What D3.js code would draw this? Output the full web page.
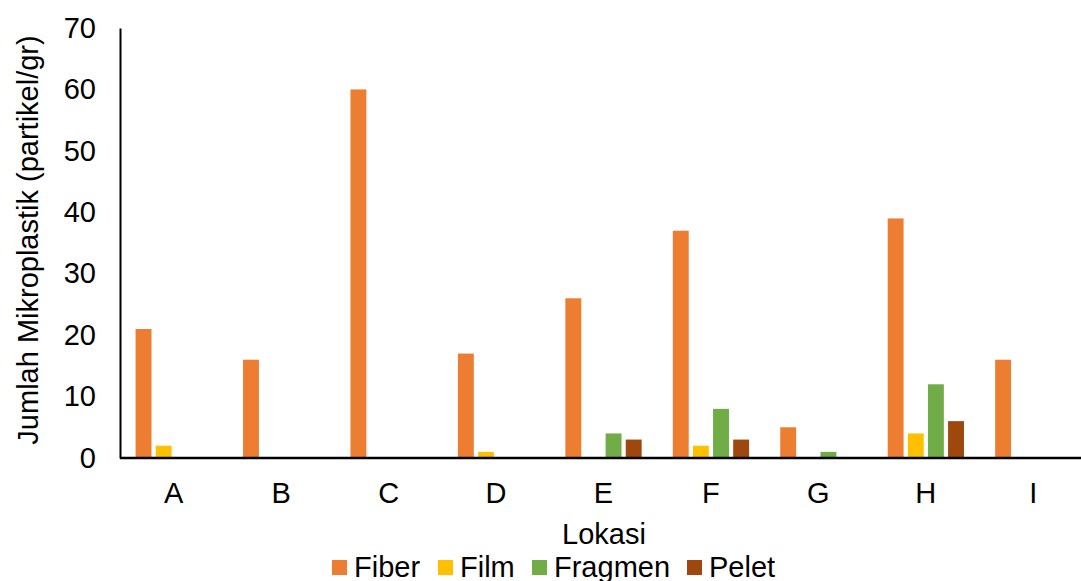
<!DOCTYPE html>
<html><head><meta charset="utf-8">
<script src="https://cdn.jsdelivr.net/npm/d3@7"></script>
<style>body{margin:0;background:#fff}svg{display:block;font-family:"Liberation Sans",Arial,sans-serif}</style>
</head><body><svg id="c" width="1081" height="581"></svg>
<script>
const categories = ["A","B","C","D","E","F","G","H","I"];
const seriesNames = ["Fiber","Film","Fragmen","Pelet"];
const fiber   = [21,16,60,17,26,37,5,39,16];
const film    = [2,0,0,1,0,2,0,4,0];
const fragmen = [0,0,0,0,4,8,1,12,0];
const pelet   = [0,0,0,0,3,3,0,6,0];
const yTicks  = [0,10,20,30,40,50,60,70];
const colors  = ["#ED7D31","#FFC000","#70AD47","#9E480E"];
const seriesValues = [fiber, film, fragmen, pelet];

(function(){
const FS = 29;
const svg = d3.select("#c");
const mLeft = 120, mRight = 1087, mTop = 28, mBottom = 458;
const x0 = d3.scaleBand().domain(categories).range([mLeft, mRight]).paddingInner(0.29).paddingOuter(0.145);
const x1 = d3.scaleBand().domain(seriesNames).range([0, x0.bandwidth()]).paddingInner(0.21).paddingOuter(0);
const y = d3.scaleLinear().domain([0,70]).range([mBottom, mTop]);

const g = svg.append("g");
categories.forEach((c, i) => {
  const gg = g.append("g").attr("transform", `translate(${x0(c)},0)`);
  seriesNames.forEach((s, j) => {
    const v = seriesValues[j][i];
    if (v <= 0) return;
    gg.append("rect")
      .attr("x", x1(s)).attr("width", x1.bandwidth())
      .attr("y", y(v)).attr("height", y(0) - y(v))
      .attr("fill", colors[j]);
  });
});

const yAxis = d3.axisLeft(y).tickValues(yTicks).tickSize(0).tickPadding(24);
const ya = svg.append("g").attr("transform", `translate(${mLeft},0)`).call(yAxis);
ya.select(".domain").attr("stroke", "#000").attr("stroke-width", 2);
ya.selectAll("text").attr("font-size", FS).attr("fill", "#000").attr("font-family", "Liberation Sans, Arial, sans-serif");

const xAxis = d3.axisBottom(x0).tickSize(0).tickPadding(24).tickSizeOuter(0);
const xa = svg.append("g").attr("transform", `translate(0,${mBottom})`).call(xAxis);
xa.select(".domain").attr("stroke", "#000").attr("stroke-width", 2.5).attr("d", `M${mLeft},0H1081`);
xa.selectAll("text").attr("font-size", FS).attr("fill", "#000").attr("font-family", "Liberation Sans, Arial, sans-serif");

svg.append("text").attr("x", 604).attr("y", 544).attr("text-anchor", "middle")
  .attr("font-size", FS).text("Lokasi");
svg.append("text").attr("transform", "translate(38,240) rotate(-90)").attr("text-anchor", "middle")
  .attr("font-size", FS).text("Jumlah Mikroplastik (partikel/gr)");

const legendX = [332, 438, 532, 687];
const lg = svg.append("g");
seriesNames.forEach((s, j) => {
  lg.append("rect").attr("x", legendX[j]).attr("y", 560).attr("width", 15).attr("height", 15).attr("fill", colors[j]);
  lg.append("text").attr("x", legendX[j] + 22).attr("y", 577).attr("font-size", FS).text(s);
});
})();
</script></body></html>
